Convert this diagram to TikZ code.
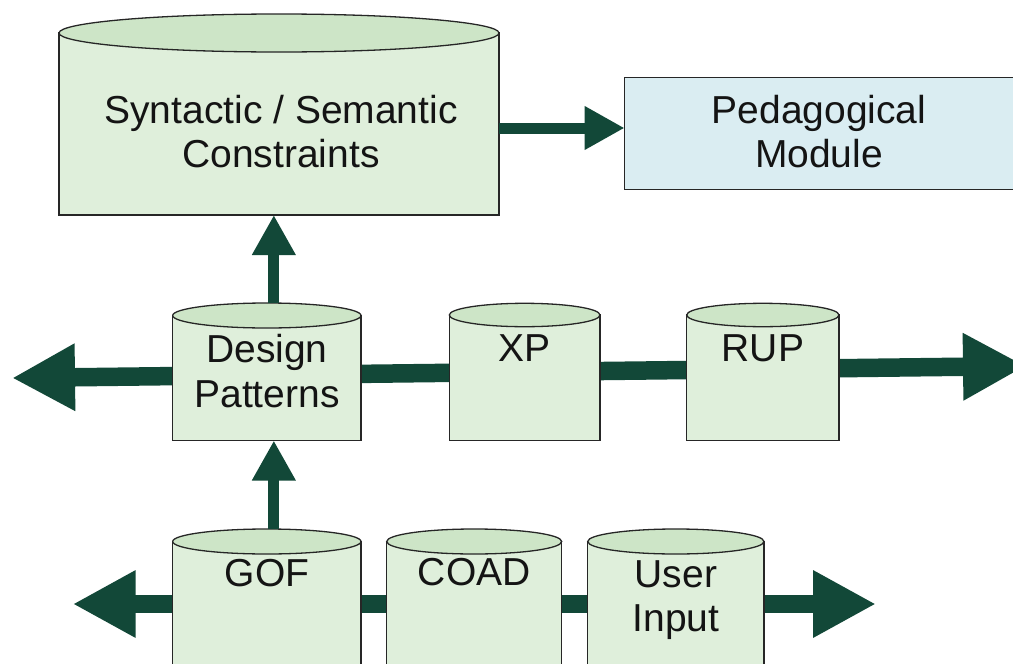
\documentclass[tikz,border=0pt]{standalone}
\usepackage{fontspec}
\setmainfont{Liberation Sans}
\usetikzlibrary{arrows.meta}
\definecolor{arrowgreen}{HTML}{124838}
\definecolor{cylfill}{HTML}{DFEFDB}
\definecolor{cyltopfill}{HTML}{CDE5C7}
\definecolor{pedfill}{HTML}{DAEDF2}
\definecolor{edgegray}{HTML}{262626}
\tikzset{
  cylbody/.style={rectangle, draw=edgegray, fill=cylfill, line width=1.3pt, inner sep=0pt, outer sep=0pt},
  cyltop/.style={draw=edgegray, fill=cyltopfill, line width=1.3pt},
  pedbox/.style={rectangle, draw=edgegray, fill=pedfill, line width=1.3pt, inner sep=0pt, outer sep=0pt},
  lbl/.style={font=\fontsize{39}{44.5}\selectfont, align=center, inner sep=0pt, outer sep=0pt, anchor=north, text=black!92},
  bigflow/.style={draw=arrowgreen, line width=18.5pt,
    {Triangle[length=63pt,width=63pt]}-{Triangle[length=63pt,width=63pt]}},
  thinflow/.style={draw=arrowgreen, line width=11pt, -{Triangle[length=40pt,width=41pt]}},
}
% name, left x, right x, ellipse centre y, ellipse y radius, bottom y
\newcommand\mycyl[6]{%
  \node[cylbody, anchor=north west, minimum width={(#3-#2)*1pt}, minimum height={(#6-#4)*1pt}] (#1) at (#2,#4) {};
  \draw[cyltop] (#1.north) ellipse [x radius={(#3-#2)/2}, y radius=#5];
}
\newcommand\tstrut{\rule{0pt}{30pt}}
\begin{document}
\begin{tikzpicture}[x=1pt,y=-1pt]
\useasboundingbox (0,0) rectangle (1013,664);

% flow lines behind the stores
\coordinate (ml) at (12,378);
\coordinate (mr) at (1026,366);
\draw[bigflow] (ml) -- (mr);
\coordinate (bl) at (72.7,604);
\coordinate (br) at (876,604);
\draw[bigflow] (bl) -- (br);

% stores
\mycyl{sc}{59}{499}{33}{19}{215}
\mycyl{dp}{172.7}{361}{315.5}{12.5}{440.5}
\mycyl{xp}{449.3}{600}{315}{11.7}{440.5}
\mycyl{rup}{686.7}{839}{315}{11.7}{440.5}
\mycyl{gof}{172.7}{361}{541.5}{12.5}{700}
\mycyl{coad}{386.7}{561.7}{541.5}{12.5}{700}
\mycyl{user}{587.7}{764}{541.5}{12.5}{700}

\node[pedbox, anchor=north west, minimum width=392pt, minimum height=112pt] (ped) at (624.6,77.3) {};

% labels
\node[lbl] (sc-t) at (281,93.3) {\tstrut Syntactic / Semantic\\Constraints};
\node[lbl] (ped-t) at (819,93) {\tstrut Pedagogical\\Module};
\node[lbl] (dp-t) at (267,332.7) {\tstrut Design\\Patterns};
\node[lbl] (xp-t) at (524.7,331) {\tstrut XP};
\node[lbl] (rup-t) at (763,331) {\tstrut RUP};
\node[lbl] (gof-t) at (267,556.7) {\tstrut GOF};
\node[lbl] (coad-t) at (474.2,555) {\tstrut COAD};
\node[lbl] (user-t) at (676,557.3) {\tstrut User\\Input};

% arrows
\coordinate (ay) at (0,128);
\draw[thinflow] (sc.east |- ay) -- (ped.west |- ay);
\coordinate (dpup) at ([shift={(7,-12.5)}]dp.north);
\draw[thinflow] (dpup) -- (dpup |- sc.south);
\coordinate (gofup) at ([shift={(7,-12.5)}]gof.north);
\draw[thinflow] (gofup) -- (gofup |- dp.south);
\end{tikzpicture}
\end{document}
